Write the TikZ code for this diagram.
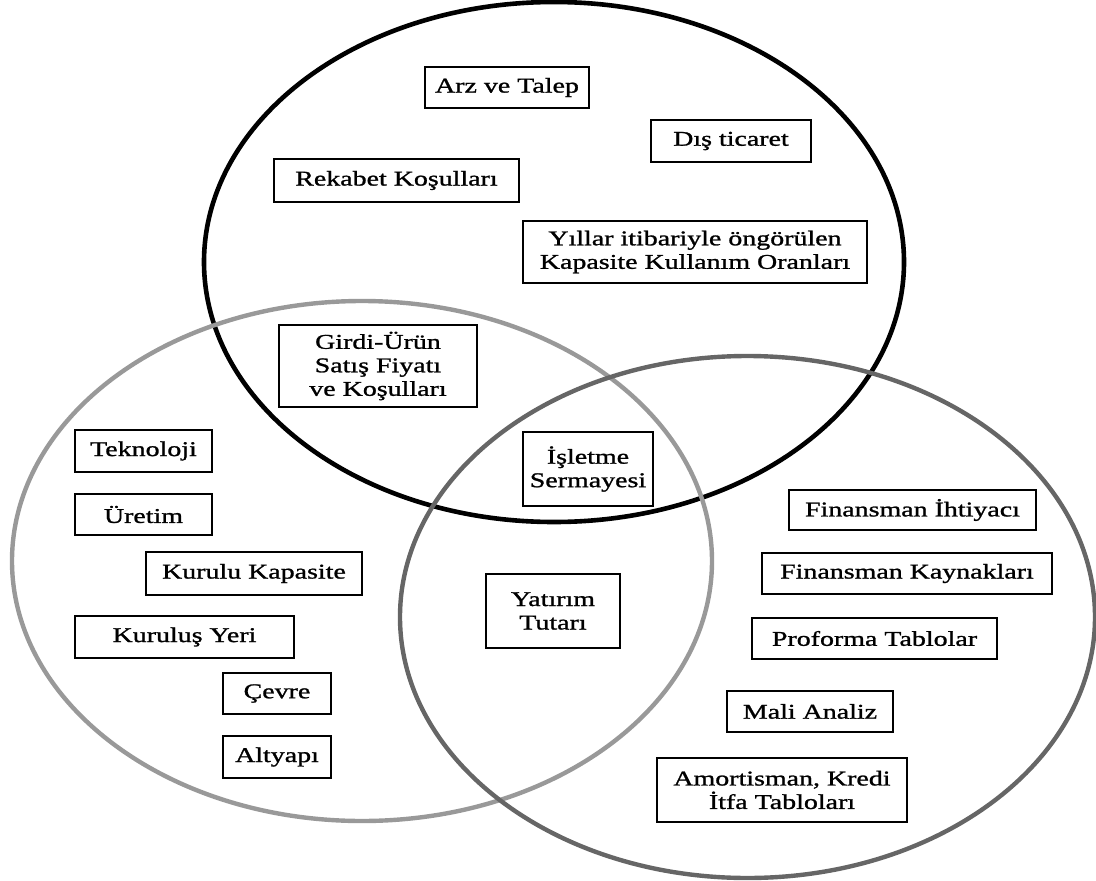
\documentclass[tikz,border=0pt]{standalone}
\usepackage{fontspec}
\setmainfont{Liberation Serif}[FakeStretch=1.33,FakeBold=1.2]
\definecolor{lightgrey}{HTML}{999999}
\definecolor{darkgrey}{HTML}{666666}

\begin{document}
\begin{tikzpicture}[x=10pt,y=10pt]
\tikzstyle{every node}+=[inner sep=0pt]
\tikzstyle{box}=[draw=black, fill=white, line width=1.8pt, align=center, font=\fontsize{21}{23.5}\selectfont]
\useasboundingbox (0,0) rectangle (109.6,-88.1);
\draw [black, line width=4.6pt] (55.4,-26.2) ellipse (35 and 26);
\draw [lightgrey, line width=4.4pt] (36.2,-56.1) ellipse (35 and 26);
\draw [darkgrey, line width=4.4pt] (74.75,-61.7) ellipse (34.75 and 26.1);
\node [box, minimum width=164pt, minimum height=41pt] (arz) at (50.7,-8.75) {Arz ve Talep};
\node [box, minimum width=160pt, minimum height=42pt] (dis) at (73.1,-14.1) {Dış ticaret};
\node [box, minimum width=245pt, minimum height=43pt] (rekabet) at (39.65,-18.05) {Rekabet Koşulları};
\node [box, minimum width=344pt, minimum height=62pt] (yillar) at (69.5,-25.2) {Yıllar itibariyle öngörülen\\Kapasite Kullanım Oranları};
\node [box, minimum width=198pt, minimum height=82pt] (girdi) at (37.8,-36.6) {Girdi-Ürün\\Satış Fiyatı\\ve Koşulları};
\node [box, minimum width=137pt, minimum height=42pt] (teknoloji) at (14.35,-45.1) {Teknoloji};
\node [box, minimum width=137pt, minimum height=41pt] (uretim) at (14.35,-51.45) {Üretim};
\node [box, minimum width=216pt, minimum height=43pt] (kurulu) at (25.4,-57.35) {Kurulu Kapasite};
\node [box, minimum width=219pt, minimum height=42pt] (kurulus) at (18.45,-63.7) {Kuruluş Yeri};
\node [box, minimum width=108pt, minimum height=41pt] (cevre) at (27.7,-69.35) {Çevre};
\node [box, minimum width=108pt, minimum height=42pt] (altyapi) at (27.7,-75.7) {Altyapı};
\node [box, minimum width=130pt, minimum height=74pt] (isletme) at (58.8,-46.9) {İşletme\\Sermayesi};
\node [box, minimum width=134pt, minimum height=74pt] (yatirim) at (55.3,-61.1) {Yatırım\\Tutarı};
\node [box, minimum width=247pt, minimum height=40pt] (ihtiyac) at (91.25,-51.0) {Finansman İhtiyacı};
\node [box, minimum width=290pt, minimum height=41pt] (kaynak) at (90.7,-57.35) {Finansman Kaynakları};
\node [box, minimum width=245pt, minimum height=41pt] (proforma) at (87.45,-63.85) {Proforma Tablolar};
\node [box, minimum width=166pt, minimum height=41pt] (mali) at (81.0,-71.15) {Mali Analiz};
\node [box, minimum width=250pt, minimum height=64pt] (amortisman) at (78.2,-79.0) {Amortisman, Kredi\\İtfa Tabloları};
\end{tikzpicture}
\end{document}
